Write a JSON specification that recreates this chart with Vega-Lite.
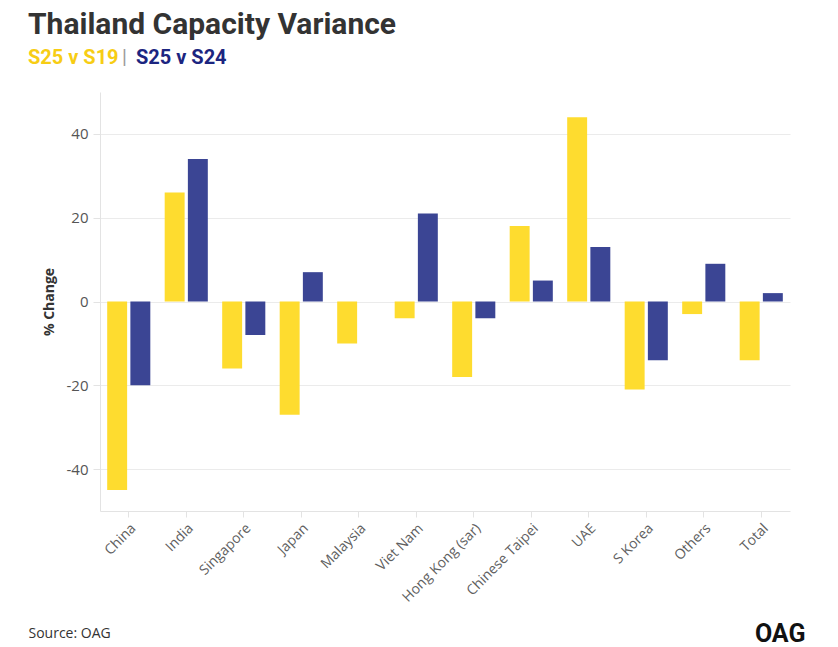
{
  "$schema": "https://vega.github.io/schema/vega-lite/v6.json",
  "width": 690,
  "height": 419,
  "padding": {"left": 28, "top": 10, "right": 20, "bottom": 10},
  "background": "white",
  "title": {
    "text": "Thailand Capacity Variance",
    "anchor": "start",
    "frame": "group",
    "dx": -72,
    "offset": 8,
    "font": "Roboto",
    "fontSize": 30,
    "fontWeight": "bold",
    "color": "#333333"
  },
  "data": {
    "values": [
      {"country": "China", "series": "S25 v S19", "change": -45},
      {"country": "China", "series": "S25 v S24", "change": -20},
      {"country": "India", "series": "S25 v S19", "change": 26},
      {"country": "India", "series": "S25 v S24", "change": 34},
      {"country": "Singapore", "series": "S25 v S19", "change": -16},
      {"country": "Singapore", "series": "S25 v S24", "change": -8},
      {"country": "Japan", "series": "S25 v S19", "change": -27},
      {"country": "Japan", "series": "S25 v S24", "change": 7},
      {"country": "Malaysia", "series": "S25 v S19", "change": -10},
      {"country": "Malaysia", "series": "S25 v S24", "change": 0},
      {"country": "Viet Nam", "series": "S25 v S19", "change": -4},
      {"country": "Viet Nam", "series": "S25 v S24", "change": 21},
      {"country": "Hong Kong (sar)", "series": "S25 v S19", "change": -18},
      {"country": "Hong Kong (sar)", "series": "S25 v S24", "change": -4},
      {"country": "Chinese Taipei", "series": "S25 v S19", "change": 18},
      {"country": "Chinese Taipei", "series": "S25 v S24", "change": 5},
      {"country": "UAE", "series": "S25 v S19", "change": 44},
      {"country": "UAE", "series": "S25 v S24", "change": 13},
      {"country": "S Korea", "series": "S25 v S19", "change": -21},
      {"country": "S Korea", "series": "S25 v S24", "change": -14},
      {"country": "Others", "series": "S25 v S19", "change": -3},
      {"country": "Others", "series": "S25 v S24", "change": 9},
      {"country": "Total", "series": "S25 v S19", "change": -14},
      {"country": "Total", "series": "S25 v S24", "change": 2}
    ]
  },
  "encoding": {
    "x": {
      "field": "country",
      "type": "nominal",
      "sort": null,
      "scale": {"paddingInner": 0.25, "paddingOuter": 0.125},
      "axis": {
        "labelAngle": -45,
        "labelFont": "Open Sans",
        "labelFontSize": 14,
        "labelColor": "#5f5f5f",
        "labelPadding": 4,
        "tickColor": "#e3e3e3",
        "tickSize": 6,
        "domainColor": "#e3e3e3",
        "title": "Source: OAG",
        "titleAnchor": "start",
        "titleAlign": "left",
        "titleBaseline": "middle",
        "titleX": -72,
        "titleY": 122,
        "titleFont": "Open Sans",
        "titleFontSize": 14,
        "titleFontWeight": "normal",
        "titleColor": "#333333"
      }
    },
    "y": {
      "field": "change",
      "type": "quantitative",
      "scale": {"domain": [-50, 50], "nice": false},
      "axis": {
        "values": [-40, -20, 0, 20, 40],
        "labelExpr": "replace(datum.label, '\u2212', '-')",
        "title": "% Change",
        "titleFont": "Open Sans",
        "titleFontSize": 14,
        "titleFontWeight": "bold",
        "titleColor": "#333333",
        "titlePadding": 10,
        "labelFont": "Open Sans",
        "labelFontSize": 15,
        "labelColor": "#555555",
        "labelPadding": 5,
        "tickColor": "#e3e3e3",
        "tickSize": 7,
        "domainColor": "#e3e3e3",
        "gridColor": "#ebebeb",
        "orient": "left"
      }
    }
  },
  "layer": [
    {
      "mark": {"type": "bar"},
      "encoding": {
        "xOffset": {
          "field": "series",
          "type": "nominal",
          "sort": ["S25 v S19", "S25 v S24"],
          "scale": {"paddingInner": 0.14, "paddingOuter": 0}
        },
        "color": {
          "field": "series",
          "type": "nominal",
          "scale": {
            "domain": ["S25 v S19", "|", "S25 v S24"],
            "range": ["#FEDC2F", "#999999", "#3B4594"]
          },
          "legend": {
            "orient": "none",
            "direction": "horizontal",
            "legendX": -72,
            "legendY": -44,
            "padding": 0,
            "title": null,
            "symbolSize": 1,
            "symbolOpacity": 0,
            "symbolStrokeWidth": 0,
            "labelOffset": -20,
            "columnPadding": 3,
            "labelFont": "Roboto",
            "labelFontSize": 20,
            "labelFontWeight": {"expr": "datum.label == '|' ? 'normal' : 'bold'"},
            "labelColor": {"expr": "datum.label == 'S25 v S19' ? '#F7CD14' : datum.label == '|' ? '#9a9a9a' : '#1C2580'"}
          }
        }
      }
    },
    {
      "mark": {"type": "tick", "opacity": 0},
      "encoding": {
        "y": {
          "field": "change",
          "type": "quantitative",
          "axis": {
            "orient": "right",
            "labels": false,
            "ticks": false,
            "domain": false,
            "grid": false,
            "title": "OAG",
            "titleAngle": 0,
            "titleAlign": "right",
            "titleBaseline": "middle",
            "titleX": 15,
            "titleY": 541,
            "titleFont": "Roboto",
            "titleFontSize": 25,
            "titleFontWeight": "bold",
            "titleColor": "#111111"
          }
        }
      }
    }
  ],
  "resolve": {"axis": {"y": "independent"}},
  "config": {
    "view": {"stroke": null}
  }
}
